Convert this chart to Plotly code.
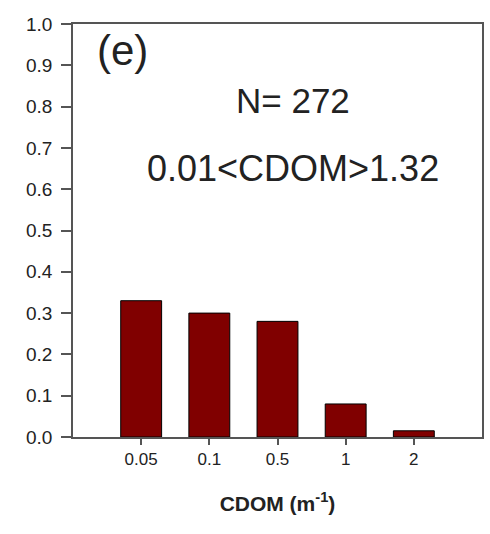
import plotly.graph_objects as go

categories = ["0.05", "0.1", "0.5", "1", "2"]
frequency = [0.33, 0.30, 0.28, 0.08, 0.015]
y_ticks = [0.0, 0.1, 0.2, 0.3, 0.4, 0.5, 0.6, 0.7, 0.8, 0.9, 1.0]
y_tick_labels = ["0.0", "0.1", "0.2", "0.3", "0.4", "0.5", "0.6", "0.7", "0.8", "0.9", "1.0"]

FONT = "Liberation Sans, Arial, sans-serif"
TXT = "#222222"
AX = "#555555"

fig = go.Figure()
fig.add_trace(go.Bar(
    x=list(range(len(categories))),
    y=frequency,
    width=0.6,
    marker=dict(color="#800000", line=dict(color="black", width=1)),
))

fig.update_layout(
    width=490, height=534,
    margin=dict(l=73, r=6, t=24, b=97),
    paper_bgcolor="white", plot_bgcolor="white",
    showlegend=False,
    font=dict(family=FONT, color=TXT),
    xaxis=dict(
        range=[-1, 5],
        tickmode="array",
        tickvals=list(range(len(categories))),
        ticktext=categories,
        ticks="outside", ticklen=6, tickcolor=AX, tickwidth=1.5,
        showline=True, linecolor=AX, linewidth=1.5, mirror=True,
        showgrid=False, zeroline=False,
        tickfont=dict(size=17, color=TXT),
        title=dict(text="<b>CDOM (m<sup>-1</sup>)</b>", font=dict(size=21, color=TXT), standoff=28),
    ),
    yaxis=dict(
        range=[0, 1.0],
        tickmode="array",
        tickvals=y_ticks,
        ticktext=y_tick_labels,
        ticks="outside", ticklen=10, tickcolor=AX, tickwidth=1.5,
        showline=True, linecolor=AX, linewidth=1.5, mirror=True,
        showgrid=False, zeroline=False,
        tickfont=dict(size=19, color=TXT),
        ticklabelstandoff=5,
    ),
)

fig.add_annotation(x=-0.27, y=0.935, xref="x", yref="y", text="(e)", showarrow=False,
                   font=dict(size=42, color=TXT), xanchor="center", yanchor="middle")
fig.add_annotation(x=2.22, y=0.814, xref="x", yref="y", text="N= 272", showarrow=False,
                   font=dict(size=35, color=TXT), xanchor="center", yanchor="middle")
fig.add_annotation(x=2.22, y=0.65, xref="x", yref="y", text="0.01&lt;CDOM&gt;1.32", showarrow=False,
                   font=dict(size=36, color=TXT), xanchor="center", yanchor="middle")

fig.write_html("out.html")
